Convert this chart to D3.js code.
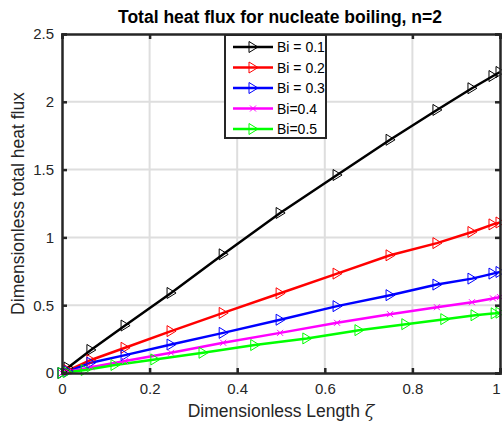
<!DOCTYPE html>
<html>
<head>
<meta charset="utf-8">
<script src="https://cdn.jsdelivr.net/npm/d3@7"></script>
<style>
  body { margin: 0; background: #fff; }
  text { font-family: "Liberation Sans", Arial, sans-serif; }
</style>
</head>
<body>
<div id="chart"></div>
<script>
// dimensionless length (solver points)
const xs = [0, 0.014, 0.066, 0.144, 0.249, 0.368, 0.498, 0.628, 0.749, 0.856, 0.936, 0.984, 1.0];
const xsGreen = [0, 0.012, 0.053, 0.121, 0.212, 0.322, 0.44, 0.559, 0.678, 0.785, 0.874, 0.943, 0.989, 1.0];

const bi01 = [0, 0.04, 0.17, 0.35, 0.59, 0.875, 1.18, 1.46, 1.72, 1.94, 2.10, 2.19, 2.22];
const bi02 = [0, 0.02, 0.096, 0.186, 0.309, 0.443, 0.588, 0.733, 0.868, 0.958, 1.04, 1.096, 1.11];
const bi03 = [0, 0.012, 0.076, 0.132, 0.21, 0.296, 0.393, 0.493, 0.574, 0.652, 0.696, 0.733, 0.745];
const bi04 = [0, 0.009, 0.042, 0.088, 0.149, 0.223, 0.296, 0.37, 0.434, 0.485, 0.522, 0.55, 0.56];
const bi05 = [0, 0.006, 0.022, 0.059, 0.10, 0.149, 0.206, 0.255, 0.316, 0.36, 0.397, 0.426, 0.44, 0.445];

const series = [
  {name: "Bi = 0.1", x: xs, y: bi01, color: "#000000", marker: "tri"},
  {name: "Bi = 0.2", x: xs, y: bi02, color: "#ff0000", marker: "tri"},
  {name: "Bi = 0.3", x: xs, y: bi03, color: "#0000ff", marker: "tri"},
  {name: "Bi=0.4", x: xs, y: bi04, color: "#ff00ff", marker: "x"},
  {name: "Bi=0.5", x: xsGreen, y: bi05, color: "#00ff00", marker: "tri"}
];

const xTicks = [0, 0.2, 0.4, 0.6, 0.8, 1];
const yTicks = [0, 0.5, 1, 1.5, 2, 2.5];

const width = 502, height = 425;
const margin = {top: 34, right: 2, bottom: 52, left: 62};

const svg = d3.select("#chart").append("svg")
  .attr("width", width)
  .attr("height", height);

const x = d3.scaleLinear().domain([0, 1]).range([margin.left, width - margin.right]);
const y = d3.scaleLinear().domain([0, 2.5]).range([height - margin.bottom, margin.top]);

// grid
svg.append("g").selectAll("line").data(xTicks.slice(1, -1)).enter().append("line")
  .attr("x1", d => x(d)).attr("x2", d => x(d))
  .attr("y1", y(0)).attr("y2", y(2.5))
  .attr("stroke", "#dedede").attr("stroke-width", 2);
svg.append("g").selectAll("line").data(yTicks.slice(1, -1)).enter().append("line")
  .attr("x1", x(0)).attr("x2", x(1))
  .attr("y1", d => y(d)).attr("y2", d => y(d))
  .attr("stroke", "#dedede").attr("stroke-width", 2);

// lines
const line = d3.line().x(d => x(d[0])).y(d => y(d[1]));
const plot = svg.append("g");
series.forEach(s => {
  const pts = s.x.map((v, i) => [v, s.y[i]]);
  plot.append("path")
    .datum(pts)
    .attr("d", line)
    .attr("fill", "none")
    .attr("stroke", s.color)
    .attr("stroke-width", 2.5);
});

function drawMarker(g, m, color, cx, cy) {
  if (m === "tri") {
    g.append("path")
      .attr("d", `M${cx - 4},${cy - 5.5}L${cx + 5},${cy}L${cx - 4},${cy + 5.5}Z`)
      .attr("fill", "none").attr("stroke", color).attr("stroke-width", 1);
  } else {
    g.append("path")
      .attr("d", `M${cx - 3},${cy - 3}L${cx + 3},${cy + 3}M${cx - 3},${cy + 3}L${cx + 3},${cy - 3}`)
      .attr("stroke", color).attr("stroke-width", 1);
  }
}

series.forEach(s => {
  const g = plot.append("g");
  s.x.forEach((v, i) => drawMarker(g, s.marker, s.color, x(v), y(s.y[i])));
});

// axes box + ticks
const axisColor = "#262626";
const xAxis = svg.append("g").attr("transform", `translate(0,${y(0)})`)
  .call(d3.axisBottom(x).tickValues(xTicks).tickSize(-5).tickPadding(10).tickFormat(d3.format("~g")));
svg.append("g").attr("transform", `translate(${x(0)},0)`)
  .call(d3.axisLeft(y).tickValues(yTicks).tickSize(-5).tickPadding(8).tickFormat(d3.format("~g")));
svg.append("g").attr("transform", `translate(0,${y(2.5)})`)
  .call(d3.axisTop(x).tickValues(xTicks).tickSize(-5).tickFormat(""));
svg.append("g").attr("transform", `translate(${x(1)},0)`)
  .call(d3.axisRight(y).tickValues(yTicks).tickSize(-5).tickFormat(""));

svg.selectAll(".domain").attr("stroke", axisColor).attr("stroke-width", 2.5);
svg.selectAll(".tick line").attr("stroke", axisColor).attr("stroke-width", 2.5);
svg.selectAll(".tick text").attr("fill", "#262626").style("font-size", "15px")
  .style("font-family", "'Liberation Sans', Arial, sans-serif");
// last x label sits at the right edge, nudge it in
xAxis.selectAll(".tick text").filter(d => d === 1).attr("dx", -4);

// title + labels
svg.append("text")
  .attr("x", 280).attr("y", 23)
  .attr("text-anchor", "middle")
  .style("font-size", "17.5px").style("font-weight", "bold")
  .text("Total heat flux for nucleate boiling, n=2");

const xl = svg.append("text")
  .attr("x", 281).attr("y", 417)
  .attr("text-anchor", "middle")
  .attr("fill", "#262626")
  .style("font-size", "17.5px");
xl.append("tspan").text("Dimensionless Length ");
xl.append("tspan").style("font-style", "italic").style("font-family", "'DejaVu Serif', serif").text("ζ");

svg.append("text")
  .attr("transform", `translate(24,${(y(0) + y(2.5)) / 2}) rotate(-90)`)
  .attr("text-anchor", "middle")
  .attr("fill", "#262626")
  .style("font-size", "17.5px")
  .text("Dimensionless total heat flux");

// legend
const leg = svg.append("g").attr("transform", "translate(225,35)");
leg.append("rect")
  .attr("width", 101).attr("height", 103)
  .attr("fill", "#fff").attr("stroke", axisColor).attr("stroke-width", 2);
series.forEach((s, i) => {
  const ly = 12 + i * 20.5;
  leg.append("line")
    .attr("x1", 8).attr("x2", 48).attr("y1", ly).attr("y2", ly)
    .attr("stroke", s.color).attr("stroke-width", 2.5);
  drawMarker(leg, s.marker, s.color, 28, ly);
  leg.append("text")
    .attr("x", 52).attr("y", ly + 5)
    .style("font-size", "14px")
    .text(s.name);
});
</script>
</body>
</html>
